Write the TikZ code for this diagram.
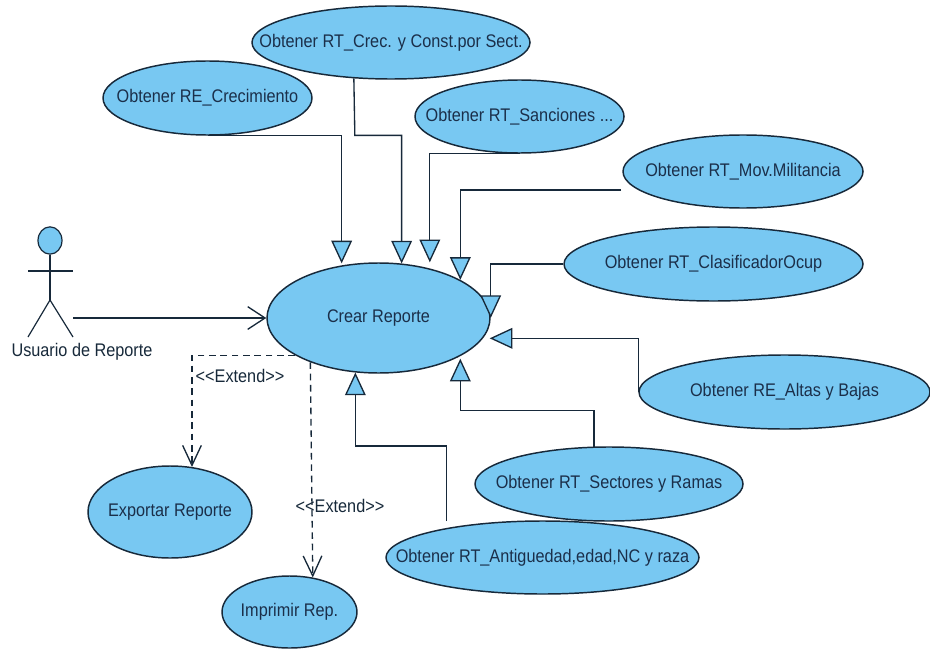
\documentclass[tikz,border=0pt]{standalone}
\usepackage{fontspec}
\setmainfont[FakeStretch=0.89]{Liberation Sans}
\usetikzlibrary{arrows.meta}
\usetikzlibrary{shapes.geometric}
\definecolor{ucfill}{HTML}{78C8F2}
\definecolor{ucline}{HTML}{17293A}
\definecolor{uctext}{HTML}{1B2F4A}
\newcommand{\uc}[1]{\makebox[0pt]{#1}}

\begin{document}
\begin{tikzpicture}[
    x=0.75pt, y=-0.75pt,
    usecase/.style 2 args={ellipse, draw=ucline, fill=ucfill, line width=1.1pt, inner sep=0,
      text=uctext, font=\fontsize{13.7}{15}\selectfont,
      minimum width=#1*0.75pt, minimum height=#2*0.75pt},
    actorline/.style={line width=0.9pt, draw=ucline},
    assoc/.style={line width=1pt, draw=ucline, -{Straight Barb[length=13pt,width=17pt,line width=1pt]}},
    gen/.style={line width=1pt, draw=ucline,
      -{Triangle[length=17pt,width=15.5pt,line width=1pt,fill=ucfill]}},
    ext/.style={line width=1pt, draw=ucline, dash pattern=on 5pt off 3.5pt,
      -{Straight Barb[length=15pt,width=14pt,line width=1pt]}},
    lbl/.style={inner sep=0, text=ucline, font=\fontsize{13.7}{15}\selectfont}
  ]
  \useasboundingbox (0,0) rectangle (930,649);

  % use cases
  \node[usecase={223}{110}] (crear) at (378.5,318) {\uc{Crear Reporte}};
  \node[usecase={209}{74}] (recrec) at (207.5,98) {\uc{Obtener RE\_Crecimiento}};
  \node[usecase={278}{73}] (rtcrec) at (391,42.5) {\uc{Obtener RT\_Crec. y Const.por Sect.}};
  \node[usecase={209}{73}] (rtsanc) at (519.5,116.5) {\uc{Obtener RT\_Sanciones ...}};
  \node[usecase={240}{73}] (rtmov) at (743,171.5) {\uc{Obtener RT\_Mov.Militancia}};
  \node[usecase={299}{74}] (rtclas) at (713.5,264) {\uc{Obtener RT\_ClasificadorOcup}};
  \node[usecase={291}{74}] (realtas) at (784.5,392) {\uc{Obtener RE\_Altas y  Bajas}};
  \node[usecase={268}{74}] (rtsect) at (609,484) {\uc{Obtener RT\_Sectores y Ramas}};
  \node[usecase={313}{73}] (rtanti) at (542.5,557.5) {\uc{Obtener RT\_Antiguedad,edad,NC y raza}};
  \node[usecase={164}{92}] (exportar) at (170,512) {\uc{Exportar Reporte}};
  \node[usecase={135}{72}] (imprimir) at (289.5,612) {\uc{Imprimir Rep.}};

  % actor
  \node[ellipse, draw=ucline, fill=ucfill, line width=0.9pt, inner sep=0,
    minimum width=18pt, minimum height=20.5pt] (head) at (50,240.5) {};
  \coordinate (hip) at (50,300);
  \coordinate (handl) at (28,271);
  \coordinate (handr) at (73,271);
  \coordinate (footl) at (28,337);
  \coordinate (footr) at (73,337);
  \coordinate (actor) at (73,318);
  \draw[actorline] (head.south) -- (hip);
  \draw[actorline] (handl) -- (handr);
  \draw[actorline] (footl) -- (hip) -- (footr);
  \node[lbl] (usuario) at (82,352) {Usuario de Reporte};

  \draw[assoc] (actor) -- (crear.west);

  % generalizations
  \draw[gen, shorten >=1.5pt] (recrec.south) -| (crear.125.5);
  \draw[gen] (rtcrec.224) -- ++(1,57) -| (crear.67.5);
  \draw[gen, shorten >=4.6pt] (rtsanc.south) -| (crear.44);
  \draw[gen, shorten <=12.75pt] (rtmov.190) -| (crear.25.2);
  \draw[gen] (rtclas.west) -| (crear.east);
  \draw[gen, shorten >=5pt] (realtas.west) |- (crear.349.7);
  \draw[gen, shorten >=1.9pt] (rtsect.112) -- ++(0,-36) -| (crear.335.3);
  \draw[gen, shorten <=5.25pt] (rtanti.163.2) -- ++(0,-82) -| (crear.247.3);

  % extends
  \draw[ext] (crear.204.2) -| (exportar.64.5);
  \draw[ext] (crear.213.6) -- (imprimir.56.4);
  \node[lbl] (ext1) at (240,376) {<{}<Extend>{}>};
  \node[lbl] (ext2) at (340,506) {<{}<Extend>{}>};
\end{tikzpicture}
\end{document}
